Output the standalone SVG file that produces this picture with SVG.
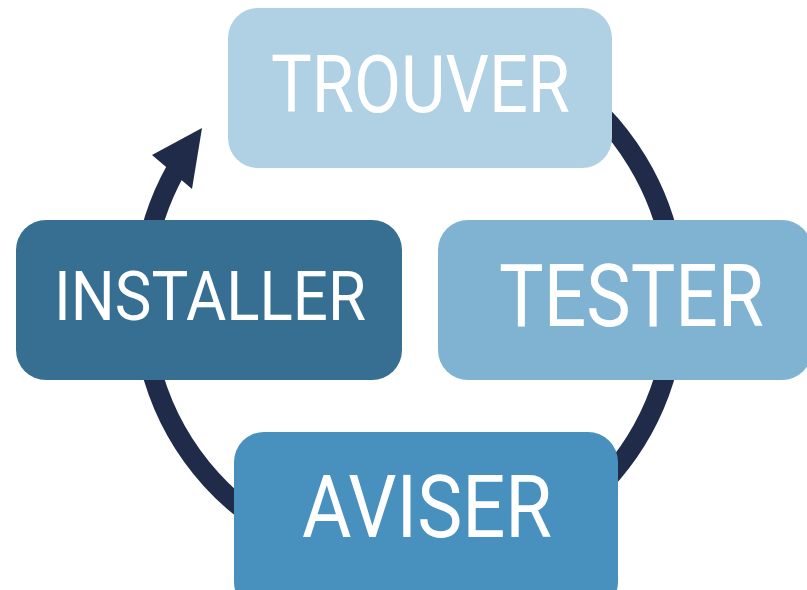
<svg xmlns="http://www.w3.org/2000/svg" width="807" height="590" viewBox="0 0 807 590">
  <style>
    .cycle { fill: none; stroke: #1f2b48; stroke-width: 20; }
    .head { fill: #1f2b48; }
    .label { font-family: Roboto, "Liberation Sans", sans-serif; fill: #ffffff; font-weight: 400; }
  </style>
  <rect width="807" height="590" fill="#ffffff"/>

  <!-- clockwise cycle ring, ending in an arrowhead on the left side -->
  <g id="connectors">
    <path class="cycle" d="M 455.4 37.1 A 267 267 0 1 1 182.6 158.5"/>
    <polygon class="head" points="202,128 192,189 172,172 152,155"/>
  </g>

  <g id="trouver">
    <rect x="228" y="8" width="384" height="160" rx="30" fill="#b0d0e3"/>
    <text class="label" x="271" y="112" font-size="80" textLength="299" lengthAdjust="spacingAndGlyphs">TROUVER</text>
  </g>

  <g id="tester">
    <rect x="438" y="220" width="374" height="160" rx="30" fill="#80b2d2"/>
    <text class="label" x="499" y="326" font-size="88" textLength="265" lengthAdjust="spacingAndGlyphs">TESTER</text>
  </g>

  <g id="aviser">
    <rect x="234" y="432" width="384" height="180" rx="30" fill="#4891bf"/>
    <text class="label" x="302" y="537" font-size="87" textLength="250" lengthAdjust="spacingAndGlyphs">AVISER</text>
  </g>

  <g id="installer">
    <rect x="16" y="220" width="386" height="160" rx="30" fill="#376f92"/>
    <text class="label" x="54" y="320" font-size="68" textLength="312" lengthAdjust="spacingAndGlyphs">INSTALLER</text>
  </g>
</svg>
